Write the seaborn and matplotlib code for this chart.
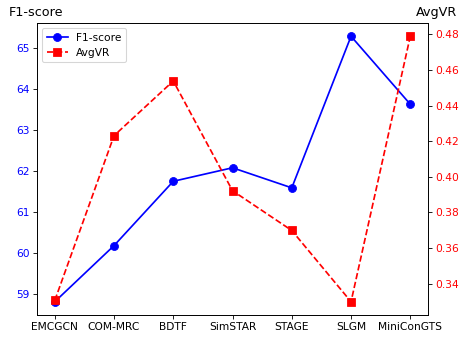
import seaborn as sns
import matplotlib.pyplot as plt
import pandas as pd

models = ["EMCGCN", "COM-MRC", "BDTF", "SimSTAR", "STAGE", "SLGM", "MiniConGTS"]
f1_score = [58.80, 60.17, 61.74, 62.07, 61.58, 65.28, 63.62]
avg_vr = [0.3306, 0.4231, 0.4538, 0.3922, 0.3699, 0.3299, 0.4789]

df = pd.DataFrame({"model": models, "f1": f1_score, "vr": avg_vr})
df["pos"] = range(len(models))

DPI = 76.5
fig = plt.figure(figsize=(459 / DPI, 338 / DPI), dpi=DPI)
ax = fig.add_axes([0.0806, 0.068, 0.852, 0.864])
ax2 = ax.twinx()

sns.lineplot(x="pos", y="f1", data=df, ax=ax, color="blue", marker="o",
             markersize=7.5, markeredgecolor="blue", linewidth=1.6,
             label="F1-score", legend=False)
sns.lineplot(x="pos", y="vr", data=df, ax=ax2, color="red", marker="s",
             markersize=7.5, markeredgecolor="red", linewidth=1.6, linestyle="--",
             label="AvgVR", legend=False)

ax.set_xticks(df["pos"])
ax.set_xticklabels(models)
ax.set_xlabel("")
ax.set_ylabel("")
ax2.set_ylabel("")
ax.tick_params(axis="y", labelcolor="blue")
ax2.tick_params(axis="y", labelcolor="red")
ax2.yaxis.set_major_formatter(plt.FormatStrFormatter("%.2f"))

fig.text(0.019, 0.962, "F1-score", fontsize=12, va="center", ha="left")
fig.text(0.997, 0.962, "AvgVR", fontsize=12, va="center", ha="right")

h1, l1 = ax.get_legend_handles_labels()
h2, l2 = ax2.get_legend_handles_labels()
ax.legend(h1 + h2, l1 + l2, loc="upper left")

plt.savefig("out.png", dpi=DPI)
